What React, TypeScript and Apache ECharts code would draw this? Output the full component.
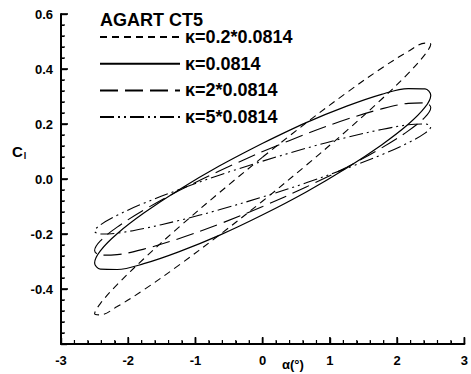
import React, { useEffect, useRef } from "react";
import * as echarts from "echarts";

// angle of attack (deg), one loop sampled around the cycle (closed)
const ALPHA = [0, 0.647, 1.25, 1.768, 2.165, 2.415, 2.5, 2.415, 2.165, 1.768, 1.25, 0.647, 0,
  -0.647, -1.25, -1.768, -2.165, -2.415, -2.5, -2.415, -2.165, -1.768, -1.25, -0.647, 0];

// lift coefficient for each reduced frequency
const CL_K02 = [0.08, 0.204, 0.314, 0.403, 0.464, 0.494, 0.49, 0.453, 0.384, 0.29, 0.176, 0.05, -0.08,
  -0.204, -0.314, -0.403, -0.464, -0.494, -0.49, -0.453, -0.384, -0.29, -0.176, -0.05, 0.08];
const CL_K1 = [0.13, 0.205, 0.265, 0.308, 0.329, 0.328, 0.305, 0.261, 0.199, 0.124, 0.04, -0.047, -0.13,
  -0.205, -0.265, -0.308, -0.329, -0.328, -0.305, -0.261, -0.199, -0.124, -0.04, 0.047, 0.13];
const CL_K2 = [0.1, 0.164, 0.217, 0.255, 0.275, 0.277, 0.26, 0.225, 0.175, 0.113, 0.043, -0.029, -0.1,
  -0.164, -0.217, -0.255, -0.275, -0.277, -0.26, -0.225, -0.175, -0.113, -0.043, 0.029, 0.1];
const CL_K5 = [0.065, 0.112, 0.151, 0.18, 0.197, 0.2, 0.19, 0.167, 0.132, 0.088, 0.039, -0.014, -0.065,
  -0.112, -0.151, -0.18, -0.197, -0.2, -0.19, -0.167, -0.132, -0.088, -0.039, 0.014, 0.065];

const NAMES = ["κ=0.2*0.0814", "κ=0.0814", "κ=2*0.0814", "κ=5*0.0814"];
const X_TICKS = [-3, -2, -1, 0, 1, 2, 3];
const Y_TICKS = [-0.6, -0.4, -0.2, 0.0, 0.2, 0.4, 0.6];
const MINOR_DIV = 5;

const FONT = "'Liberation Sans', Arial, Helvetica, sans-serif";

export default function App() {
  const ref = useRef<HTMLDivElement>(null);
  useEffect(() => {
    if (!ref.current) return;
    const chart = echarts.init(ref.current, undefined, { renderer: "svg" });
    const mk = (cl: number[]) => ALPHA.map((a, i) => [a, cl[i]]);
    const dashes: any[] = [[7, 5], "solid", [18, 7], [14, 4, 2, 4, 2, 4]];
    const sets = [CL_K02, CL_K1, CL_K2, CL_K5];

    // tick positions along the axes (major and minor)
    const xMajor: number[][] = [];
    const xMinor: number[][] = [];
    const yMajor: number[][] = [];
    const yMinor: number[][] = [];
    X_TICKS.forEach((v, i) => {
      xMajor.push([v, Y_TICKS[0]]);
      if (i < X_TICKS.length - 1) {
        const step = (X_TICKS[i + 1] - v) / MINOR_DIV;
        for (let k = 1; k < MINOR_DIV; k++) xMinor.push([v + k * step, Y_TICKS[0]]);
      }
    });
    Y_TICKS.forEach((v, i) => {
      yMajor.push([X_TICKS[0], v]);
      if (i < Y_TICKS.length - 1) {
        const step = (Y_TICKS[i + 1] - v) / MINOR_DIV;
        for (let k = 1; k < MINOR_DIV; k++) yMinor.push([X_TICKS[0], v + k * step]);
      }
    });
    const tickSeries = (data: number[][], size: number[], offset: number[]) => ({
      type: "scatter",
      silent: true,
      clip: false,
      z: 6,
      data,
      symbol: "rect",
      symbolSize: size,
      symbolOffset: offset,
      itemStyle: { color: "#000", opacity: 1 },
      emphasis: { disabled: true },
    });

    const mkAxis = () => ({
      type: "value",
      axisLine: { show: true, onZero: false, lineStyle: { color: "#000", width: 2 } },
      axisTick: { show: true, inside: true, length: 6, lineStyle: { color: "#000", width: 1.4 } },
      minorTick: { show: true, splitNumber: MINOR_DIV, length: 3, lineStyle: { color: "#000", width: 1 } },
      splitLine: { show: false },
      minorSplitLine: { show: false },
    });
    chart.setOption({
      animation: false,
      grid: { left: 61, right: 2, top: 14, bottom: 30 },
      legend: {
        orient: "vertical",
        left: 99,
        top: 28,
        padding: 0,
        itemWidth: 80,
        itemHeight: 17,
        itemGap: 8.7,
        data: NAMES,
        itemStyle: { opacity: 0 },
        textStyle: { fontFamily: FONT, fontWeight: "bold", fontSize: 18, color: "#000" },
      },
      xAxis: {
        ...mkAxis(),
        min: X_TICKS[0],
        max: X_TICKS[X_TICKS.length - 1],
        interval: 1,
        axisLabel: { color: "#000", fontFamily: FONT, fontWeight: "bold", fontSize: 13, margin: 10 },
      },
      yAxis: {
        ...mkAxis(),
        min: Y_TICKS[0],
        max: Y_TICKS[Y_TICKS.length - 1],
        interval: 0.2,
        axisLabel: {
          color: "#000",
          fontFamily: FONT,
          fontWeight: "bold",
          fontSize: 13,
          margin: 8,
          formatter: (v: number) => (v < -0.55 ? "" : (Math.abs(v) < 1e-9 ? 0 : v).toFixed(1)),
        },
      },
      graphic: [
        {
          type: "text",
          left: 100,
          top: 11,
          style: { text: "AGART CT5", fontFamily: FONT, fontWeight: "bold", fontSize: 18, fill: "#000" },
        },
        {
          type: "text",
          left: 12,
          top: 144,
          style: {
            text: "{c|C}{s|l}",
            rich: {
              c: { fontFamily: FONT, fontWeight: "bold", fontSize: 15, fill: "#000" },
              s: { fontFamily: FONT, fontWeight: "bold", fontSize: 9, fill: "#000", padding: [9, 0, 0, 1] },
            },
          },
        },
        {
          type: "text",
          left: 282,
          top: 358,
          style: { text: "α(°)", fontFamily: FONT, fontWeight: "bold", fontSize: 13, fill: "#000" },
        },
      ],
      series: [
        ...sets.map((cl, i) => ({
          name: NAMES[i],
          type: "line",
          data: mk(cl),
          symbol: "none",
          smooth: 0.35,
          lineStyle: { color: "#000", width: i === 1 ? 1.2 : 1.1, type: dashes[i] },
          itemStyle: { color: "#000" },
        })),
        tickSeries(xMajor, [1.6, 7], [0, -3.5]),
        tickSeries(xMinor, [1.2, 4], [0, -2]),
        tickSeries(yMajor, [7, 1.6], [3.5, 0]),
        tickSeries(yMinor, [4, 1.2], [2, 0]),
      ],
    });
    return () => chart.dispose();
  }, []);
  return <div ref={ref} style={{ position: "fixed", left: 0, top: 0, width: 471, height: 374, background: "#fff" }} />;
}
